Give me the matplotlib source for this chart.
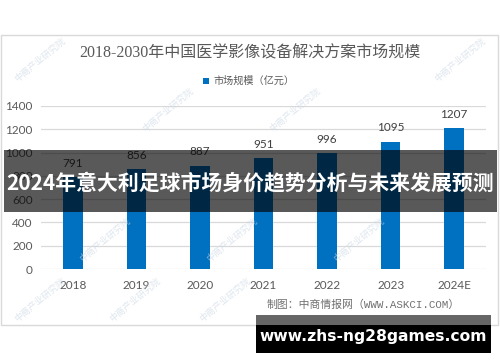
import matplotlib
matplotlib.use("Agg")
import matplotlib.pyplot as plt
from matplotlib.patches import Rectangle

plt.rcParams['font.family'] = ['Noto Sans CJK SC', 'DejaVu Sans']

years = ['2018', '2019', '2020', '2021', '2022', '2023', '2024E']
market_size = [791, 856, 887, 951, 996, 1095, 1207]
yticks = [0, 200, 400, 600, 800, 1000, 1200, 1400]
title = '2018-2030年中国医学影像设备解决方案市场规模'
legend_label = '市场规模（亿元）'
source = '制图：中商情报网（WWW.ASKCI.COM）'
banner = '2024年意大利足球市场身价趋势分析与未来发展预测'
site = 'www.zhs-ng28games.com'
watermark = '中商产业研究院'

W, H = 500, 362
fig = plt.figure(figsize=(W / 100, H / 100), dpi=100)
fig.patch.set_facecolor('white')

def fx(px):
    return px / W

def fy(py):
    return 1 - py / H

# chart frame
fig.patches.append(Rectangle((fx(1), fy(325)), fx(497), (325 - 35) / H,
                             transform=fig.transFigure, fill=False,
                             edgecolor='#d9d9d9', linewidth=1.0, zorder=0))

ax = fig.add_axes([fx(41), fy(269), fx(486 - 41), (269 - 106) / H])
x = list(range(len(years)))
ax.bar(x, market_size, width=0.31, color='#0070C0', zorder=2)
ax.set_xlim(-0.5, len(years) - 0.5)
ax.set_ylim(0, 1400)
ax.set_yticks(yticks)
ax.set_yticklabels([str(v) for v in yticks], fontfamily='Lato', fontsize=8.5, color='#595959')
ax.set_xticks(x)
ax.set_xticklabels(years, fontfamily='Lato', fontsize=8.5, color='#595959')
ax.tick_params(axis='both', length=0, pad=6)
ax.tick_params(axis='x', pad=8)
for s in ax.spines.values():
    s.set_visible(False)
ax.grid(axis='y', color='#d9d9d9', linewidth=0.9, zorder=0)
ax.set_axisbelow(True)
ax.set_facecolor('none')
for xi, v in zip(x, market_size):
    ax.annotate(str(v), (xi, v), xytext=(0, 6), textcoords='offset points',
                ha='center', va='bottom', fontfamily='Lato', fontsize=8.5, color='#404040')

fig.text(0.5, fy(53), title, ha='center', va='center', fontsize=11.5,
         color='#595959', family=['Liberation Serif', 'Noto Sans CJK SC'])

# legend
fig.patches.append(Rectangle((fx(203), fy(84)), fx(6), 6 / H, transform=fig.transFigure,
                             facecolor='#0070C0', edgecolor='none'))
fig.text(fx(213), fy(81), legend_label, ha='left', va='center', fontsize=7.3, color='#595959')

fig.text(fx(460), fy(305), source, ha='right', va='center', fontsize=7.8,
         color='#707070', family=['Liberation Mono', 'Noto Sans CJK SC'])

# faint watermarks
wm_pos = [(40, 60), (460, 60), (168, 110), (295, 110),
          (105, 240), (232, 240), (359, 240), (40, 300), (135, 300), (225, 300)]
for px, py in wm_pos:
    fig.text(fx(px), fy(py), watermark, rotation=40, ha='center', va='center',
             fontsize=6.5, color='#c9d6e3', alpha=0.6, zorder=5)

# dark banner
fig.patches.append(Rectangle((fx(4), fy(212)), fx(493), 62 / H, transform=fig.transFigure,
                             facecolor='black', alpha=0.65, edgecolor='none', zorder=10))
fig.text(0.5, fy(183), banner, ha='center', va='center', fontsize=15, color='white',
         fontweight='bold', zorder=11)

# bottom site box
fig.patches.append(Rectangle((fx(256), fy(325)), fx(235), 10 / H, transform=fig.transFigure,
                             facecolor='#666666', edgecolor='none', zorder=10))
fig.patches.append(Rectangle((fx(256), fy(353)), fx(235), 28 / H, transform=fig.transFigure,
                             facecolor='black', edgecolor='none', zorder=10))
fig.text(fx(373), fy(337), site, ha='center', va='center', fontsize=11.2, color='white',
         fontweight='bold', family='DejaVu Sans', zorder=11)

fig.savefig('out.png', dpi=100)
